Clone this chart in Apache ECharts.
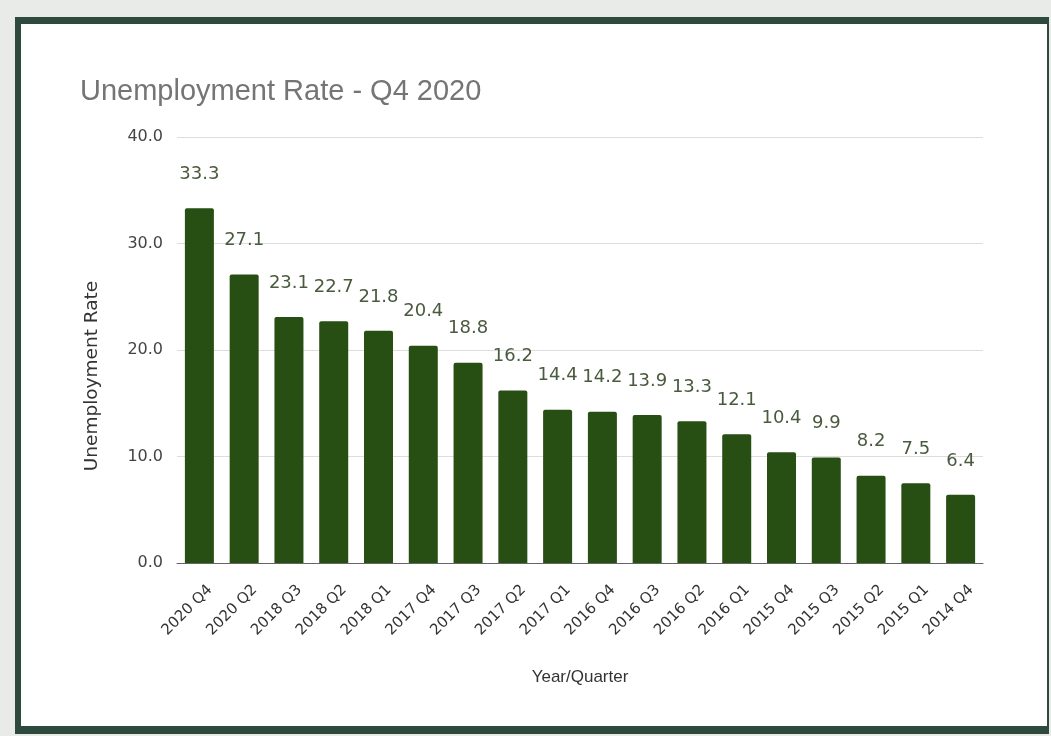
<!DOCTYPE html>
<html>
<head>
<meta charset="utf-8">
<script src="https://cdn.jsdelivr.net/npm/echarts@6/dist/echarts.min.js"></script>
<style>
html,body{margin:0;padding:0;width:1051px;height:736px;background:#e9ebe9;overflow:hidden;}
#frame{position:absolute;left:15px;top:17px;width:1034px;height:717px;box-sizing:border-box;background:#fff;border-style:solid;border-color:#2e4a3f;border-width:7px 2px 8px 6px;}
#chart{position:absolute;left:0;top:0;width:1051px;height:736px;}
</style>
</head>
<body>
<div id="frame"></div>
<div id="chart"></div>
<script>
const categories = ["2020 Q4","2020 Q2","2018 Q3","2018 Q2","2018 Q1","2017 Q4","2017 Q3","2017 Q2","2017 Q1","2016 Q4","2016 Q3","2016 Q2","2016 Q1","2015 Q4","2015 Q3","2015 Q2","2015 Q1","2014 Q4"];
const rates = [33.3,27.1,23.1,22.7,21.8,20.4,18.8,16.2,14.4,14.2,13.9,13.3,12.1,10.4,9.9,8.2,7.5,6.4];
const yTicks = {min:0, max:40, interval:10};

const chart = echarts.init(document.getElementById('chart'), null, {renderer:'canvas'});
chart.setOption({
  backgroundColor:'transparent',
  animation:false,
  title:{
    text:'Unemployment Rate - Q4 2020',
    left:75, top:72,
    textStyle:{fontFamily:'Liberation Sans, Arial, sans-serif',fontSize:29,fontWeight:'normal',color:'#757575'}
  },
  grid:{left:177,right:68,top:137,bottom:173},
  xAxis:{
    type:'category',
    data:categories,
    name:'Year/Quarter',
    nameLocation:'middle',
    nameGap:106,
    nameTextStyle:{fontFamily:'Liberation Sans, Arial, sans-serif',fontSize:17,color:'#333'},
    axisTick:{show:false},
    axisLine:{lineStyle:{color:'#666',width:1}},
    axisLabel:{rotate:45,interval:0,margin:14,lineHeight:30,formatter:v=>'\n'+v,fontFamily:'DejaVu Sans, sans-serif',fontSize:15,color:'#333'}
  },
  yAxis:{
    type:'value',
    min:yTicks.min,max:yTicks.max,interval:yTicks.interval,
    name:'Unemployment Rate',
    nameLocation:'middle',
    nameGap:75,
    nameRotate:90,
    nameTextStyle:{fontFamily:'DejaVu Sans, sans-serif',fontSize:18.5,color:'#333',padding:[0,52,0,0]},
    axisLine:{show:false},
    axisTick:{show:false},
    splitLine:{lineStyle:{color:'#dddddd',width:1}},
    axisLabel:{margin:14,fontFamily:'DejaVu Sans, sans-serif',fontSize:16,color:'#444',formatter:v=>v.toFixed(1)}
  },
  series:[{
    type:'bar',
    data:rates,
    barWidth:29,
    itemStyle:{color:'#274e13',borderRadius:[2,2,0,0]},
    label:{show:true,position:'top',distance:25,fontFamily:'DejaVu Sans, sans-serif',fontSize:18,color:'#4a5a3e',formatter:p=>p.value.toFixed(1)}
  }]
});
</script>
</body>
</html>
